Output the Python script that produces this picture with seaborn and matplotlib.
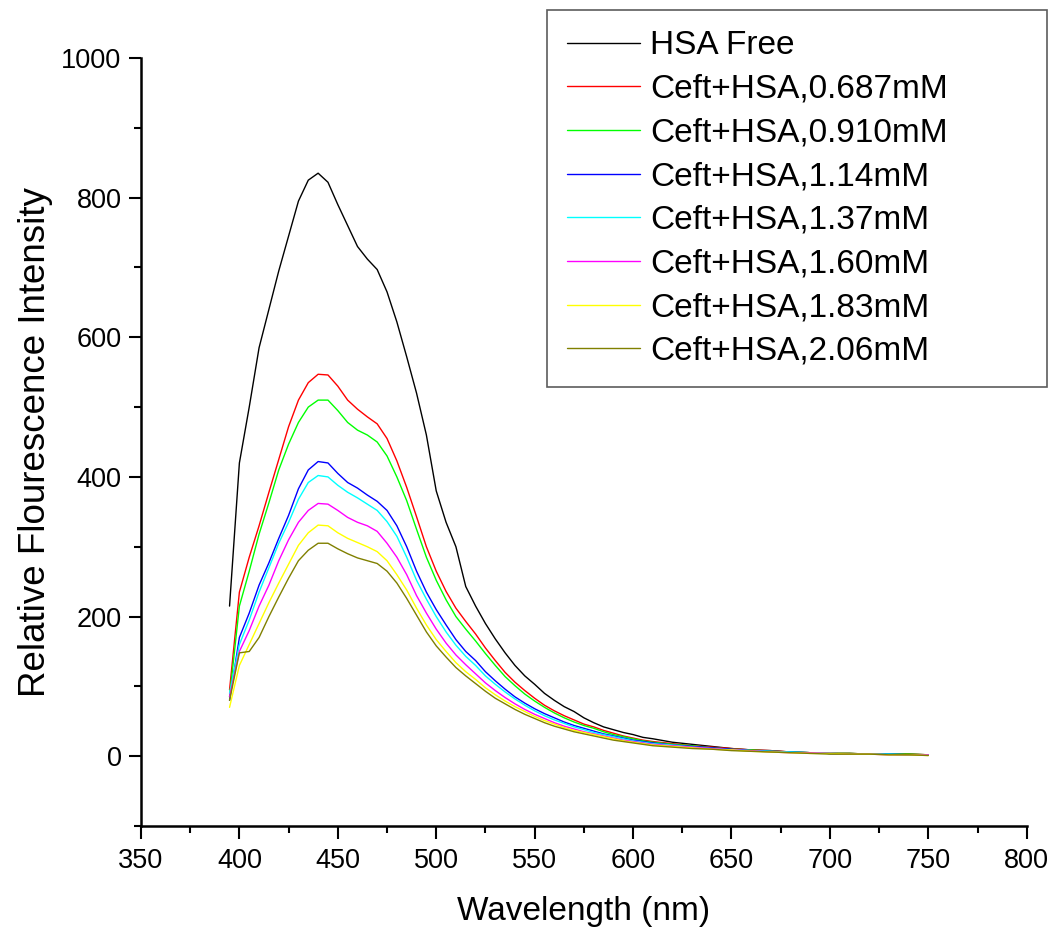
"""
Fluorescence emission spectra of HSA with increasing Ceft concentration.
"""

import numpy as np
import pandas as pd
import matplotlib
matplotlib.use("Agg")
import matplotlib.pyplot as plt
from matplotlib.ticker import MultipleLocator
import seaborn as sns

# wavelength grid (nm)
wavelength = list(range(395, 615, 5)) + list(range(620, 760, 10))

hsa_free = [215, 420, 500, 585, 640, 695, 745, 795, 825, 835, 822, 790, 760, 730, 712, 697,
            665, 622, 572, 520, 460, 380, 335, 300, 243, 215, 190, 168, 148, 130, 115, 103,
            90, 80, 71, 64, 55, 48, 42, 38, 34, 31, 27, 25,
            20, 17, 14, 11, 9, 8, 6, 5, 4, 4, 3, 3, 3, 2]
ceft_0687 = [95, 235, 285, 330, 378, 425, 472, 510, 535, 547, 546, 530, 510, 497, 486, 476,
             455, 423, 385, 343, 300, 265, 236, 212, 193, 175, 155, 137, 120, 106, 94, 83,
             73, 65, 58, 52, 46, 42, 37, 33, 29, 26, 23, 21,
             18, 15, 13, 11, 9, 8, 6, 5, 4, 4, 3, 3, 3, 2]
ceft_0910 = [85, 215, 265, 318, 363, 410, 447, 478, 500, 510, 510, 495, 478, 467, 460, 450,
             430, 400, 366, 325, 285, 252, 224, 200, 182, 165, 147, 130, 114, 101, 89, 79,
             70, 62, 55, 49, 44, 40, 35, 31, 28, 25, 22, 20,
             17, 15, 12, 10, 9, 7, 6, 5, 4, 4, 3, 3, 3, 2]
ceft_114 = [80, 170, 205, 245, 277, 312, 345, 383, 410, 422, 420, 405, 392, 384, 374, 365,
            352, 330, 300, 265, 235, 210, 188, 167, 150, 137, 121, 108, 96, 85, 76, 68,
            61, 55, 49, 44, 40, 36, 32, 29, 26, 23, 21, 19,
            16, 14, 12, 10, 8, 7, 6, 5, 4, 3, 3, 3, 2, 2]
ceft_137 = [90, 160, 195, 235, 270, 305, 335, 368, 392, 402, 400, 388, 378, 370, 361, 352,
            336, 315, 285, 252, 225, 200, 178, 159, 143, 130, 115, 103, 92, 82, 73, 65,
            58, 52, 47, 42, 38, 34, 31, 28, 25, 22, 20, 18,
            16, 13, 11, 9, 8, 7, 6, 5, 4, 3, 3, 3, 2, 2]
ceft_160 = [85, 150, 180, 215, 245, 280, 310, 335, 352, 362, 361, 352, 342, 335, 330, 322,
            305, 285, 260, 230, 205, 182, 162, 145, 131, 118, 105, 94, 84, 75, 67, 60,
            54, 48, 43, 39, 35, 32, 29, 26, 23, 21, 19, 17,
            15, 13, 11, 9, 8, 6, 5, 5, 4, 3, 3, 2, 2, 2]
ceft_183 = [70, 130, 160, 190, 220, 248, 275, 302, 320, 331, 330, 320, 312, 306, 300, 293,
            280, 260, 238, 212, 188, 167, 150, 134, 121, 110, 98, 88, 79, 71, 64, 57,
            51, 46, 41, 37, 34, 31, 28, 25, 22, 20, 18, 16,
            14, 12, 10, 9, 7, 6, 5, 4, 4, 3, 3, 2, 2, 1]
ceft_206 = [80, 148, 150, 170, 200, 228, 255, 280, 295, 305, 305, 297, 290, 284, 280, 276,
            265, 248, 226, 202, 178, 158, 142, 127, 115, 104, 93, 83, 75, 67, 60, 54,
            48, 43, 39, 35, 32, 29, 26, 23, 21, 19, 17, 15,
            13, 11, 10, 8, 7, 6, 5, 4, 3, 3, 3, 2, 2, 1]

labels = ["HSA Free", "Ceft+HSA,0.687mM", "Ceft+HSA,0.910mM", "Ceft+HSA,1.14mM",
          "Ceft+HSA,1.37mM", "Ceft+HSA,1.60mM", "Ceft+HSA,1.83mM", "Ceft+HSA,2.06mM"]
series = [hsa_free, ceft_0687, ceft_0910, ceft_114, ceft_137, ceft_160, ceft_183, ceft_206]
colors = ["#000000", "#FF0000", "#00FF00", "#0000FF", "#00FFFF", "#FF00FF", "#FFFF00", "#808000"]

frames = []
for lab, vals in zip(labels, series):
    frames.append(pd.DataFrame({"wavelength": wavelength, "intensity": vals, "sample": lab}))
df = pd.concat(frames, ignore_index=True)

sns.set_style("ticks")
plt.rcParams["font.family"] = ["Liberation Sans", "DejaVu Sans"]
plt.rcParams["text.color"] = "black"
plt.rcParams["axes.labelcolor"] = "black"

fig = plt.figure(figsize=(10.52, 9.32), dpi=100)
ax = fig.add_axes([0.134, 0.1137, 0.842, 0.8241])

sns.lineplot(data=df, x="wavelength", y="intensity", hue="sample", hue_order=labels,
             palette=dict(zip(labels, colors)), linewidth=1.0, ax=ax, legend=True)

ax.set_xlim(350, 800)
ax.set_ylim(-100, 1000)
ax.xaxis.set_major_locator(MultipleLocator(50))
ax.xaxis.set_minor_locator(MultipleLocator(25))
ax.set_yticks(np.arange(0, 1001, 200))
ax.yaxis.set_minor_locator(MultipleLocator(100))

for side in ["top", "right"]:
    ax.spines[side].set_visible(False)
for side in ["left", "bottom"]:
    ax.spines[side].set_linewidth(1.8)
    ax.spines[side].set_color("black")
ax.tick_params(which="major", direction="out", length=9, width=1.5, labelsize=19.5,
               colors="black")
ax.tick_params(axis="x", which="major", pad=7)
ax.tick_params(axis="y", which="major", pad=5)
ax.tick_params(which="minor", direction="out", length=5, width=1.5, colors="black")

ax.set_xlabel("Wavelength (nm)", fontsize=24, labelpad=16, color="black")
ax.set_ylabel("Relative Flourescence Intensity", fontsize=26.5, labelpad=6, color="black")

# legend box sits partly above the axes, like the original
handles, _ = ax.get_legend_handles_labels()
leg = ax.legend(handles, labels, loc="upper left",
                bbox_to_anchor=(0.52, 0.989 - 0.3959, 0.475, 0.3959),
                bbox_transform=fig.transFigure, mode="expand", fontsize=24,
                frameon=True, fancybox=False, borderaxespad=0, handlelength=2.2,
                handletextpad=0.3, labelspacing=0.38, borderpad=0.6)
leg.get_frame().set_edgecolor("#333333")
leg.get_frame().set_linewidth(1.2)
for line in leg.get_lines():
    line.set_linewidth(1.0)
for txt in leg.get_texts():
    txt.set_color("black")

fig.savefig("out.png", dpi=100)
